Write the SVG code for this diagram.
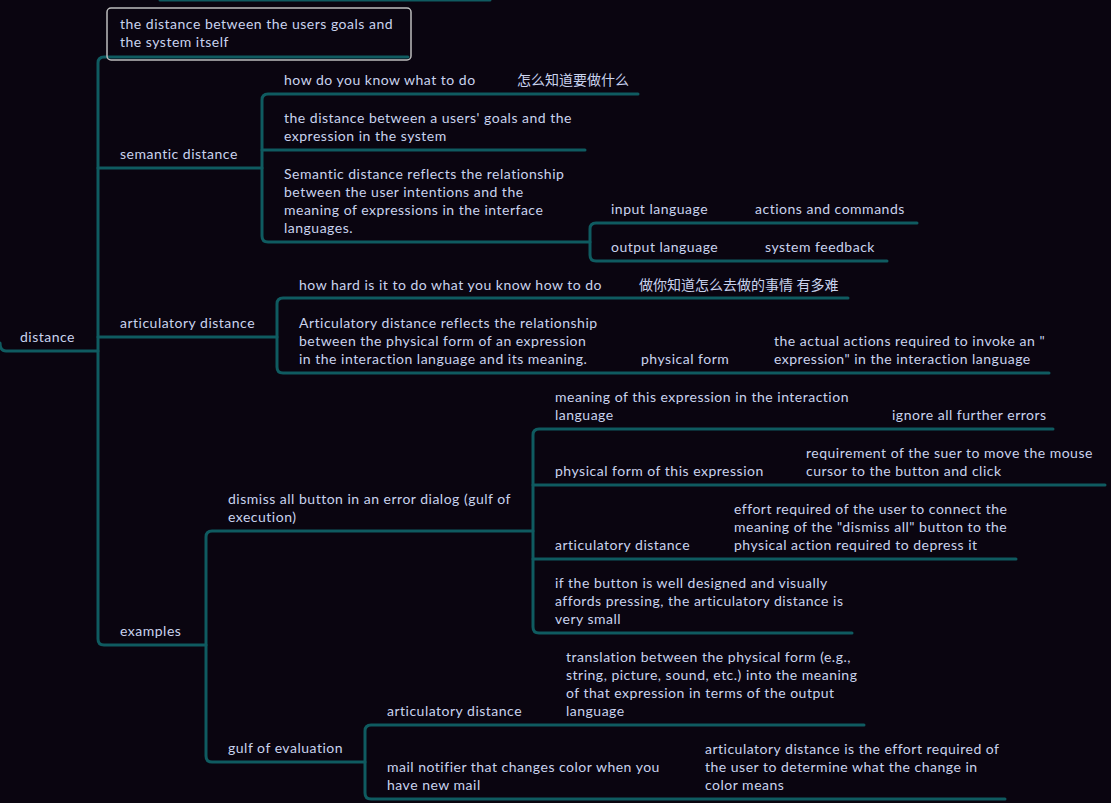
<svg xmlns="http://www.w3.org/2000/svg" width="1111" height="803" viewBox="0 0 1111 803">
<style>
text{font-family:Lato,"Noto Sans CJK SC",sans-serif;font-size:14px;fill:#c9d3ee;letter-spacing:0.5px}
text.cjk{letter-spacing:0}
.c path{fill:none;stroke:#0f5b60;stroke-width:3;stroke-linecap:round}
.box{fill:none;stroke:#bdbdbd;stroke-width:1.5}
</style>
<rect x="0" y="0" width="1111" height="803" fill="#0a0510"/>
<g class="c" id="connectors">
<path d="M160 0 H490"/>
<path d="M408 57 H104 Q98 57 98 63 V639 Q98 645 104 645 H206"/>
<path d="M98 168 H262"/>
<path d="M98 337 H277"/>
<path d="M0 343 Q0 351 6 351 H98"/>
<path d="M638 94 H268 Q262 94 262 100 V236 Q262 242 268 242 H590"/>
<path d="M262 150 H585"/>
<path d="M917 223 H596 Q590 223 590 229 V255 Q590 261 596 261 H887"/>
<path d="M848 298 H283 Q277 298 277 304 V367 Q277 373 283 373 H1049"/>
<path d="M533 531 H212 Q206 531 206 537 V756 Q206 762 212 762 H365"/>
<path d="M1053 429 H539 Q533 429 533 435 V627 Q533 633 539 633 H852"/>
<path d="M533 485 H1105"/>
<path d="M533 559 H1016"/>
<path d="M864 725 H371 Q365 725 365 731 V793 Q365 799 371 799 H1005"/>
</g>
<g id="n-root"><text x="20" y="342">distance</text></g>
<g id="n-def"><rect class="box" x="107" y="8" width="304" height="52" rx="4"/><text x="120" y="29">the distance between the users goals and</text><text x="120" y="47">the system itself</text></g>
<g id="n-sem"><text x="120" y="159">semantic distance</text></g>
<g id="n-sem1"><text x="284" y="85">how do you know what to do</text></g>
<g id="n-sem1a"><text class="cjk" x="517" y="85">怎么知道要做什么</text></g>
<g id="n-sem2"><text x="284" y="123">the distance between a users' goals and the</text><text x="284" y="141">expression in the system</text></g>
<g id="n-sem3"><text x="284" y="179">Semantic distance reflects the relationship</text><text x="284" y="197">between the user intentions and the</text><text x="284" y="215">meaning of expressions in the interface</text><text x="284" y="233">languages.</text></g>
<g id="n-in"><text x="611" y="214">input language</text></g>
<g id="n-in1"><text x="755" y="214">actions and commands</text></g>
<g id="n-out"><text x="611" y="252">output language</text></g>
<g id="n-out1"><text x="765" y="252">system feedback</text></g>
<g id="n-art"><text x="120" y="328">articulatory distance</text></g>
<g id="n-art1"><text x="299" y="290">how hard is it to do what you know how to do</text></g>
<g id="n-art1a"><text class="cjk" x="639" y="290">做你知道怎么去做的事情 有多难</text></g>
<g id="n-art2"><text x="299" y="328">Articulatory distance reflects the relationship</text><text x="299" y="346">between the physical form of an expression</text><text x="299" y="364">in the interaction language and its meaning.</text></g>
<g id="n-pf"><text x="641" y="364">physical form</text></g>
<g id="n-pf1"><text x="774" y="346">the actual actions required to invoke an "</text><text x="774" y="364">expression" in the interaction language</text></g>
<g id="n-ex"><text x="120" y="636">examples</text></g>
<g id="n-dis"><text x="228" y="504">dismiss all button in an error dialog (gulf of</text><text x="228" y="522">execution)</text></g>
<g id="n-d1"><text x="555" y="402">meaning of this expression in the interaction</text><text x="555" y="420">language</text></g>
<g id="n-d1a"><text x="892" y="420">ignore all further errors</text></g>
<g id="n-d2"><text x="555" y="476">physical form of this expression</text></g>
<g id="n-d2a"><text x="806" y="458">requirement of the suer to move the mouse</text><text x="806" y="476">cursor to the button and click</text></g>
<g id="n-d3"><text x="555" y="550">articulatory distance</text></g>
<g id="n-d3a"><text x="734" y="514">effort required of the user to connect the</text><text x="734" y="532">meaning of the "dismiss all" button to the</text><text x="734" y="550">physical action required to depress it</text></g>
<g id="n-d4"><text x="555" y="588">if the button is well designed and visually</text><text x="555" y="606">affords pressing, the articulatory distance is</text><text x="555" y="624">very small</text></g>
<g id="n-ge"><text x="228" y="753">gulf of evaluation</text></g>
<g id="n-g1"><text x="387" y="716">articulatory distance</text></g>
<g id="n-g1a"><text x="566" y="662">translation between the physical form (e.g.,</text><text x="566" y="680">string, picture, sound, etc.) into the meaning</text><text x="566" y="698">of that expression in terms of the output</text><text x="566" y="716">language</text></g>
<g id="n-g2"><text x="387" y="772">mail notifier that changes color when you</text><text x="387" y="790">have new mail</text></g>
<g id="n-g2a"><text x="705" y="754">articulatory distance is the effort required of</text><text x="705" y="772">the user to determine what the change in</text><text x="705" y="790">color means</text></g>
</svg>
